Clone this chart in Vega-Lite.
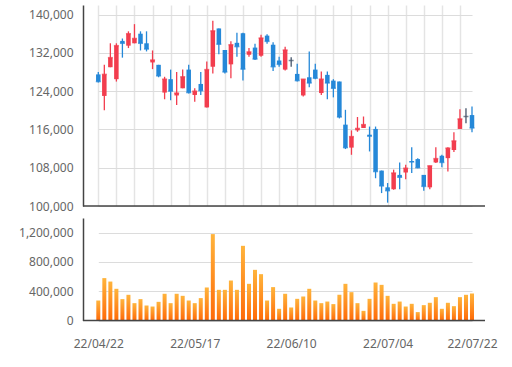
{
  "$schema": "https://vega.github.io/schema/vega-lite/v6.json",
  "background": "white",
  "padding": {"left": 5, "top": 5, "right": 27, "bottom": 5},
  "config": {
    "view": {"stroke": null},
    "font": "Noto Sans",
    "axis": {
      "labelFont": "Noto Sans",
      "labelFontSize": 12,
      "labelColor": "#666666",
      "domainColor": "#444444",
      "domainWidth": 1.5,
      "gridColor": "#dcdcdc",
      "gridWidth": 1.2,
      "ticks": false,
      "title": null
    }
  },
  "resolve": {"scale": {"x": "independent"}},
  "spacing": 6,
  "datasets": {
    "stock": [
      {"d": "22/04/22", "o": 127500, "h": 128000, "l": 125800, "c": 126000, "v": 273000},
      {"d": "22/04/25", "o": 123000, "h": 129500, "l": 120000, "c": 127500, "v": 579000},
      {"d": "22/04/26", "o": 129000, "h": 134000, "l": 129000, "c": 131000, "v": 532000},
      {"d": "22/04/27", "o": 126500, "h": 134000, "l": 126000, "c": 133500, "v": 433000},
      {"d": "22/04/28", "o": 134500, "h": 135000, "l": 131000, "c": 134000, "v": 292000},
      {"d": "22/04/29", "o": 133500, "h": 136500, "l": 133000, "c": 136000, "v": 351000},
      {"d": "22/05/02", "o": 134000, "h": 138000, "l": 134000, "c": 135000, "v": 237000},
      {"d": "22/05/03", "o": 136000, "h": 136500, "l": 132500, "c": 134000, "v": 292000},
      {"d": "22/05/04", "o": 134000, "h": 136500, "l": 132300, "c": 132800, "v": 205000},
      {"d": "22/05/06", "o": 130000, "h": 132500, "l": 128600, "c": 130500, "v": 191000},
      {"d": "22/05/09", "o": 129500, "h": 129500, "l": 126900, "c": 127200, "v": 255000},
      {"d": "22/05/10", "o": 123700, "h": 127000, "l": 122300, "c": 126500, "v": 365000},
      {"d": "22/05/11", "o": 126500, "h": 128500, "l": 122100, "c": 124000, "v": 237000},
      {"d": "22/05/12", "o": 123100, "h": 128000, "l": 121100, "c": 123600, "v": 365000},
      {"d": "22/05/13", "o": 124600, "h": 128500, "l": 124600, "c": 127000, "v": 337000},
      {"d": "22/05/16", "o": 128500, "h": 129500, "l": 123500, "c": 123700, "v": 273000},
      {"d": "22/05/17", "o": 123200, "h": 124600, "l": 121800, "c": 124000, "v": 237000},
      {"d": "22/05/18", "o": 125500, "h": 128000, "l": 123200, "c": 124100, "v": 306000},
      {"d": "22/05/19", "o": 120600, "h": 130200, "l": 120600, "c": 128500, "v": 451000},
      {"d": "22/05/20", "o": 129100, "h": 138700, "l": 127700, "c": 136600, "v": 1180000},
      {"d": "22/05/23", "o": 137100, "h": 137100, "l": 131700, "c": 133800, "v": 419000},
      {"d": "22/05/24", "o": 132600, "h": 132600, "l": 127700, "c": 128000, "v": 419000},
      {"d": "22/05/25", "o": 129600, "h": 134400, "l": 126700, "c": 133700, "v": 546000},
      {"d": "22/05/26", "o": 134100, "h": 136200, "l": 131200, "c": 133300, "v": 419000},
      {"d": "22/05/27", "o": 136100, "h": 136200, "l": 126200, "c": 128600, "v": 1020000},
      {"d": "22/05/30", "o": 131600, "h": 133000, "l": 131200, "c": 132200, "v": 501000},
      {"d": "22/05/31", "o": 133100, "h": 133900, "l": 130500, "c": 130700, "v": 692000},
      {"d": "22/06/02", "o": 131400, "h": 135800, "l": 131200, "c": 135100, "v": 633000},
      {"d": "22/06/03", "o": 135600, "h": 135900, "l": 133900, "c": 134400, "v": 273000},
      {"d": "22/06/07", "o": 133700, "h": 134200, "l": 128200, "c": 129100, "v": 456000},
      {"d": "22/06/08", "o": 130400, "h": 131200, "l": 129100, "c": 129600, "v": 160000},
      {"d": "22/06/09", "o": 128500, "h": 133300, "l": 128300, "c": 132600, "v": 365000},
      {"d": "22/06/10", "o": 130400, "h": 131100, "l": 129100, "c": 130400, "v": 178000},
      {"d": "22/06/13", "o": 127600, "h": 129700, "l": 126000, "c": 126200, "v": 296000},
      {"d": "22/06/14", "o": 123100, "h": 126500, "l": 122900, "c": 126500, "v": 328000},
      {"d": "22/06/15", "o": 126900, "h": 132300, "l": 124800, "c": 125700, "v": 433000},
      {"d": "22/06/16", "o": 128500, "h": 129700, "l": 126500, "c": 126700, "v": 273000},
      {"d": "22/06/17", "o": 123600, "h": 128100, "l": 123200, "c": 126500, "v": 237000},
      {"d": "22/06/20", "o": 127400, "h": 128100, "l": 122300, "c": 125700, "v": 259000},
      {"d": "22/06/21", "o": 126200, "h": 126500, "l": 122700, "c": 124600, "v": 224000},
      {"d": "22/06/22", "o": 126000, "h": 126000, "l": 118300, "c": 118600, "v": 351000},
      {"d": "22/06/23", "o": 117000, "h": 120100, "l": 111900, "c": 112200, "v": 501000},
      {"d": "22/06/24", "o": 112200, "h": 115800, "l": 110700, "c": 114500, "v": 387000},
      {"d": "22/06/27", "o": 115800, "h": 118600, "l": 115500, "c": 116200, "v": 237000},
      {"d": "22/06/28", "o": 116300, "h": 118700, "l": 116300, "c": 117000, "v": 132000},
      {"d": "22/06/29", "o": 114900, "h": 116600, "l": 111400, "c": 114600, "v": 296000},
      {"d": "22/06/30", "o": 116100, "h": 116600, "l": 105800, "c": 107200, "v": 519000},
      {"d": "22/07/01", "o": 107400, "h": 107400, "l": 102700, "c": 104200, "v": 487000},
      {"d": "22/07/04", "o": 103900, "h": 104800, "l": 100700, "c": 103200, "v": 337000},
      {"d": "22/07/05", "o": 103500, "h": 107600, "l": 103400, "c": 106900, "v": 228000},
      {"d": "22/07/06", "o": 106500, "h": 109100, "l": 103500, "c": 106000, "v": 259000},
      {"d": "22/07/07", "o": 107000, "h": 108600, "l": 105600, "c": 107900, "v": 191000},
      {"d": "22/07/08", "o": 109400, "h": 112300, "l": 106900, "c": 109200, "v": 228000},
      {"d": "22/07/11", "o": 109800, "h": 110000, "l": 107900, "c": 108000, "v": 115000},
      {"d": "22/07/12", "o": 106500, "h": 106500, "l": 103200, "c": 104100, "v": 210000},
      {"d": "22/07/13", "o": 103900, "h": 108400, "l": 103500, "c": 108400, "v": 242000},
      {"d": "22/07/14", "o": 109100, "h": 112300, "l": 109000, "c": 109900, "v": 319000},
      {"d": "22/07/15", "o": 110500, "h": 110700, "l": 108100, "c": 109100, "v": 160000},
      {"d": "22/07/18", "o": 110000, "h": 112300, "l": 107200, "c": 112100, "v": 242000},
      {"d": "22/07/19", "o": 111700, "h": 115400, "l": 111300, "c": 113600, "v": 196000},
      {"d": "22/07/20", "o": 116100, "h": 120200, "l": 116100, "c": 118200, "v": 319000},
      {"d": "22/07/21", "o": 118700, "h": 120400, "l": 117300, "c": 118700, "v": 351000},
      {"d": "22/07/22", "o": 119000, "h": 120800, "l": 115400, "c": 116300, "v": 369000}
    ],
    "base": [{}]
  },
  "vconcat": [
    {
      "width": 402,
      "height": 201,
      "layer": [
        {
          "data": {"name": "stock"},
          "encoding": {
            "x": {
              "field": "d",
              "type": "ordinal",
              "sort": null,
              "scale": {"type": "point", "padding": 0, "range": [15.3, 389]},
              "axis": {
                "labels": false,
                "domain": false,
                "grid": true,
                "gridColor": "#e4e4e4",
                "gridWidth": 1.5,
                "minExtent": 0,
                "maxExtent": 0,
                "values": ["22/04/22", "22/04/27", "22/05/02", "22/05/06", "22/05/11", "22/05/16", "22/05/19", "22/05/24", "22/05/27", "22/06/02", "22/06/08", "22/06/13", "22/06/16", "22/06/21", "22/06/24", "22/06/29", "22/07/04", "22/07/07", "22/07/12", "22/07/15", "22/07/20"]
              }
            },
            "color": {
              "condition": [
                {"test": "datum.c > datum.o", "value": "#f23d4e"},
                {"test": "datum.c == datum.o", "value": "#44546a"}
              ],
              "value": "#2588d8"
            }
          },
          "layer": [
            {
              "mark": {"type": "rule", "strokeWidth": 1.3},
              "encoding": {
                "y": {
                  "field": "l",
                  "type": "quantitative",
                  "scale": {"domain": [100000, 142000], "nice": false, "zero": false},
                  "axis": {
                    "values": [100000, 108000, 116000, 124000, 132000, 140000],
                    "format": ",d",
                    "labelPadding": 10,
                    "minExtent": 78,
                    "maxExtent": 78,
                    "grid": true
                  }
                },
                "y2": {"field": "h"}
              }
            },
            {
              "mark": {"type": "bar", "width": 4.5},
              "encoding": {
                "y": {"field": "o", "type": "quantitative"},
                "y2": {"field": "c"}
              }
            },
            {
              "mark": {"type": "tick", "size": 5, "thickness": 1.5},
              "encoding": {
                "y": {"field": "c", "type": "quantitative"}
              }
            }
          ]
        },
        {
          "data": {"name": "base"},
          "mark": {"type": "rule", "color": "#444444", "strokeWidth": 1.5},
          "encoding": {"y": {"datum": 100000, "type": "quantitative"}}
        }
      ]
    },
    {
      "width": 402,
      "height": 102.5,
      "layer": [
        {
          "data": {"name": "stock"},
          "mark": {
            "type": "bar",
            "width": 4,
            "color": {
              "gradient": "linear",
              "x1": 0, "y1": 0, "x2": 0, "y2": 1,
              "stops": [
                {"offset": 0, "color": "#ffb43c"},
                {"offset": 1, "color": "#ff6a08"}
              ]
            }
          },
          "encoding": {
            "x": {
              "field": "d",
              "type": "ordinal",
              "sort": null,
              "scale": {"type": "point", "padding": 0, "range": [15.3, 389]},
              "axis": {
                "grid": false,
                "domain": false,
                "labelAngle": 0,
                "labelPadding": 18,
                "values": ["22/04/22", "22/05/17", "22/06/10", "22/07/04", "22/07/22"]
              }
            },
            "y": {
              "field": "v",
              "type": "quantitative",
              "scale": {"domain": [0, 1400000], "nice": false},
              "axis": {
                "values": [0, 400000, 800000, 1200000],
                "format": ",d",
                "labelPadding": 10,
                "minExtent": 78,
                "maxExtent": 78,
                "grid": true
              }
            }
          }
        },
        {
          "data": {"name": "base"},
          "mark": {"type": "rule", "color": "#444444", "strokeWidth": 1.5},
          "encoding": {
            "y": {
              "datum": 0,
              "type": "quantitative",
              "axis": {
                "values": [0, 400000, 800000, 1200000],
                "format": ",d",
                "labelPadding": 10,
                "minExtent": 78,
                "maxExtent": 78,
                "grid": true
              }
            }
          }
        }
      ]
    }
  ]
}
